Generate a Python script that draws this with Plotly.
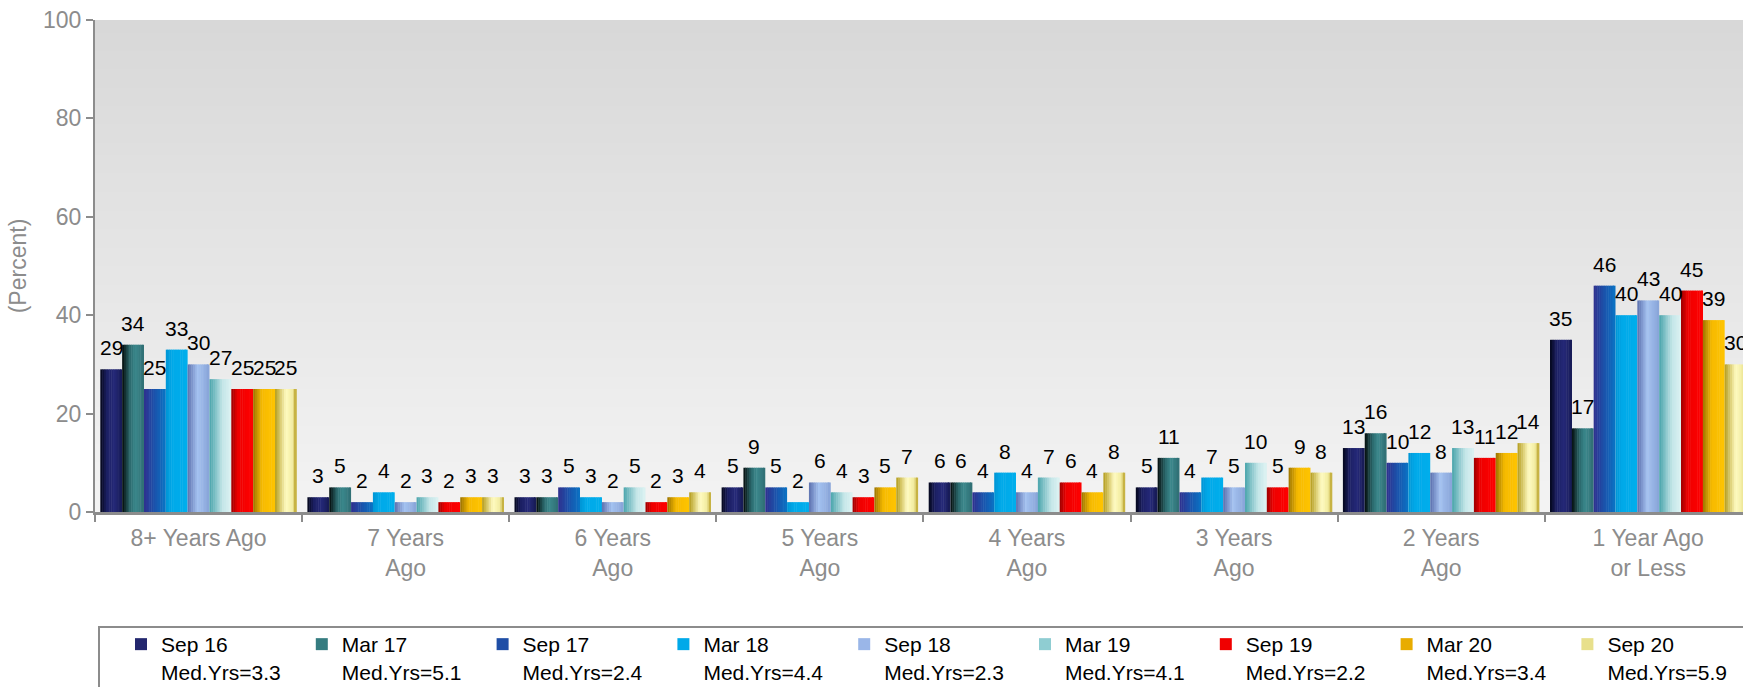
import plotly.graph_objects as go

# ---- data -------------------------------------------------------------
categories = ["8+ Years Ago", "7 Years<br>Ago", "6 Years<br>Ago", "5 Years<br>Ago",
              "4 Years<br>Ago", "3 Years<br>Ago", "2 Years<br>Ago", "1 Year Ago<br>or Less"]

series_names = ["Sep 16", "Mar 17", "Sep 17", "Mar 18", "Sep 18",
                "Mar 19", "Sep 19", "Mar 20", "Sep 20"]
median_years = [3.3, 5.1, 2.4, 4.4, 2.3, 4.1, 2.2, 3.4, 5.9]

sep16 = [29, 3, 3, 5, 6, 5, 13, 35]
mar17 = [34, 5, 3, 9, 6, 11, 16, 17]
sep17 = [25, 2, 5, 5, 4, 4, 10, 46]
mar18 = [33, 4, 3, 2, 8, 7, 12, 40]
sep18 = [30, 2, 2, 6, 4, 5, 8, 43]
mar19 = [27, 3, 5, 4, 7, 10, 13, 40]
sep19 = [25, 2, 2, 3, 6, 5, 11, 45]
mar20 = [25, 3, 3, 5, 4, 9, 12, 39]
sep20 = [25, 3, 4, 7, 8, 8, 14, 30]
series_values = [sep16, mar17, sep17, mar18, sep18, mar19, sep19, mar20, sep20]

y_ticks = [0, 20, 40, 60, 80, 100]

# ---- styling ----------------------------------------------------------
# horizontal shading stops (position across the bar, colour) for each series
shading = [
    [(0.0, "#04061a"), (0.3, "#1c2064"), (0.65, "#252978"), (1.0, "#161a54")],
    [(0.0, "#040c0c"), (0.35, "#2a686c"), (0.6, "#3b888c"), (1.0, "#306e74")],
    [(0.0, "#30308e"), (0.5, "#1a54ac"), (1.0, "#0a72c4")],
    [(0.0, "#0094d4"), (0.3, "#00a9e9"), (1.0, "#00aeec")],
    [(0.0, "#5c70ae"), (0.45, "#a4c2f0"), (1.0, "#88a4d8")],
    [(0.0, "#4aa4ac"), (0.6, "#c4e6e8"), (1.0, "#dcf2f2")],
    [(0.0, "#9c0000"), (0.3, "#ee0000"), (1.0, "#ff0000")],
    [(0.0, "#9c7400"), (0.4, "#f6ba00"), (1.0, "#ffc400")],
    [(0.0, "#b49c1c"), (0.5, "#fffbc2"), (0.8, "#f2eca0"), (1.0, "#bca42c")],
]
legend_swatch = ["#23276e", "#357c80", "#1f4ea6", "#00a9e9", "#9ab6e8",
                 "#8fcdd2", "#f00000", "#e8ac00", "#e8e08c"]

AXIS_GREY = "#8c8c8c"
FONT = "Liberation Sans, Arial, sans-serif"


def hex_to_rgb(h):
    h = h.lstrip("#")
    return tuple(int(h[i:i + 2], 16) for i in (0, 2, 4))


def shade_at(stops, t):
    for (p0, c0), (p1, c1) in zip(stops[:-1], stops[1:]):
        if p0 <= t <= p1:
            f = 0 if p1 == p0 else (t - p0) / (p1 - p0)
            a, b = hex_to_rgb(c0), hex_to_rgb(c1)
            return "rgb({},{},{})".format(*[round(a[i] + (b[i] - a[i]) * f) for i in range(3)])
    return stops[-1][1]


# ---- geometry (category units) ---------------------------------------
edge_gap = 0.0256          # space between category boundary and first bar
bar_w = (1 - 2 * edge_gap) / len(series_names)
n_strips = 12
strip_w = bar_w / n_strips

fig = go.Figure()

for j, (name, vals, stops) in enumerate(zip(series_names, series_values, shading)):
    left = -0.5 + edge_gap + j * bar_w
    for k in range(n_strips):
        t = (k + 0.5) / n_strips
        w = strip_w * (1.25 if k < n_strips - 1 else 1.0)
        fig.add_trace(go.Bar(
            x=categories, y=vals,
            offset=left + k * strip_w, width=w,
            marker=dict(color=shade_at(stops, t), line=dict(width=0)),
            showlegend=False, hoverinfo="skip",
        ))
    # legend entry for the series
    fig.add_trace(go.Bar(
        x=[categories[0]], y=[None],
        name=f"{name}<br>Med.Yrs={median_years[j]}",
        marker=dict(color=legend_swatch[j], line=dict(width=0)),
        showlegend=True,
    ))
    # value labels above each bar
    for i, v in enumerate(vals):
        fig.add_annotation(
            x=i - 0.5 + edge_gap + (j + 0.5) * bar_w, y=v,
            xref="x", yref="y", text=str(v), showarrow=False,
            yanchor="bottom", yshift=8,
            font=dict(family=FONT, size=21, color="#000000"),
        )

# plot-area background: vertical grey gradient built from thin bands
n_bands = 80
top_c, bot_c = hex_to_rgb("#d8d8d8"), hex_to_rgb("#f3f3f3")
for b in range(n_bands):
    f = b / (n_bands - 1)
    col = "rgb({},{},{})".format(*[round(bot_c[i] + (top_c[i] - bot_c[i]) * f) for i in range(3)])
    fig.add_shape(type="rect", xref="paper", yref="y", layer="below",
                  x0=0, x1=1.01, y0=100 * b / n_bands, y1=100 * (b + 1) / n_bands + 0.3,
                  fillcolor=col, line=dict(width=0))

# legend frame
W, H = 1743, 687
ML, MT, MB = 95, 20, 175
plot_w = W - ML
plot_h = H - MT - MB
fig.add_shape(type="rect", xref="paper", yref="paper",
              x0=(99 - ML) / plot_w, x1=1.05,
              y0=(H - MB - 627) / plot_h, y1=-0.8,
              line=dict(color=AXIS_GREY, width=2), fillcolor="rgba(0,0,0,0)")

cat_px = 207.1
fig.update_layout(
    width=W, height=H,
    margin=dict(l=ML, r=0, t=MT, b=MB, autoexpand=False),
    paper_bgcolor="#ffffff", plot_bgcolor="#f3f3f3",
    barmode="overlay",
    font=dict(family=FONT),
    showlegend=True,
    legend=dict(
        orientation="h", x=(121 - ML) / plot_w, xanchor="left",
        y=(H - MB - 624) / plot_h, yanchor="top",
        entrywidth=135.8, entrywidthmode="pixels",
        valign="top", traceorder="normal",
        font=dict(family=FONT, size=21, color="#000000"),
        bgcolor="rgba(0,0,0,0)", borderwidth=0,
    ),
    xaxis=dict(
        type="category", categoryorder="array", categoryarray=categories,
        range=[-0.5, -0.5 + plot_w / cat_px],
        showline=True, linecolor=AXIS_GREY, linewidth=3,
        ticks="outside", tickson="boundaries", ticklen=7, tickwidth=2, tickcolor=AXIS_GREY,
        ticklabelstandoff=3,
        tickfont=dict(family=FONT, size=23, color=AXIS_GREY),
        showgrid=False, zeroline=False, fixedrange=True,
    ),
    yaxis=dict(
        range=[0, 100], tickvals=y_ticks,
        showline=True, linecolor=AXIS_GREY, linewidth=2,
        ticks="outside", ticklen=7, tickwidth=2, tickcolor=AXIS_GREY,
        tickfont=dict(family=FONT, size=23, color=AXIS_GREY),
        title=dict(text="(Percent)", font=dict(family=FONT, size=23, color=AXIS_GREY), standoff=10),
        showgrid=False, zeroline=False, fixedrange=True,
    ),
)

fig.write_html("out.html")
